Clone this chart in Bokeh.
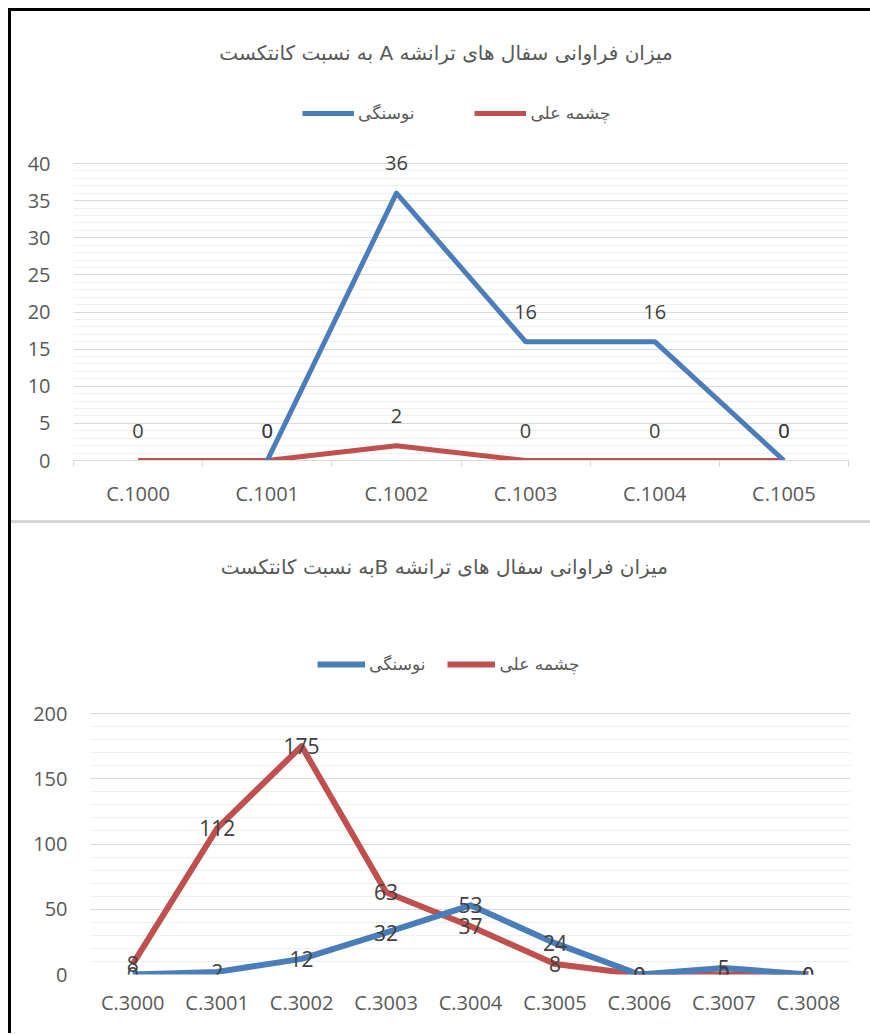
from bokeh.plotting import figure
from bokeh.models import (Range1d, FixedTicker, SingleIntervalTicker, Legend, LegendItem,
                          Label, ColumnDataSource)
from bokeh.layouts import column
from bokeh.core.properties import value
from bokeh.embed import file_html
from bokeh.resources import INLINE

# ---------------- data ----------------
title_a = "\u202bمیزان فراوانی سفال های ترانشه A به نسبت کانتکست\u202c"
title_b = "\u202bمیزان فراوانی سفال های ترانشه  Bبه نسبت کانتکست\u202c"
series_names = ["نوسنگی", "چشمه علی"]

cats_a = ["C.1000", "C.1001", "C.1002", "C.1003", "C.1004", "C.1005"]
neolithic_a = [float("nan"), 0, 36, 16, 16, 0]
cheshmeh_a = [0, 0, 2, 0, 0, 0]
yticks_a = [0, 40, 5]

cats_b = ["C.3000", "C.3001", "C.3002", "C.3003", "C.3004", "C.3005", "C.3006", "C.3007", "C.3008"]
neolithic_b = [0, 2, 12, 32, 53, 24, 0, 5, 0]
cheshmeh_b = [8, 112, 175, 63, 37, 8, 0, 0, 0]
yticks_b = [0, 200, 50]

BLUE = "#4a7ebb"
RED = "#c0504d"
TXT = "#595959"
FONT = "Open Sans"
AR_FONT = "DejaVu Sans"


def make_chart(cats, blue, red, yt, height, frame_l, frame_r, grid_top, min_bottom,
               title, title_up, title_dx, leg_loc, leg_spacing, leg_glyph_w,
               label_offset, axis_line, lw, x_standoff):
    n = len(cats)
    xs = [i + 0.5 for i in range(n)]
    top_pad = 2
    frame_bottom = height - min_bottom
    # the frame reaches up to the top of the figure so that title/legend are drawn inside it;
    # grid and axis are bounded to the real value range
    y_end = yt[1] * (frame_bottom - top_pad) / (frame_bottom - grid_top)
    p = figure(width=859, height=height, x_range=Range1d(0, n), y_range=Range1d(yt[0], y_end),
               output_backend="svg", toolbar_location=None, title=None,
               min_border_left=frame_l, min_border_right=frame_r,
               min_border_top=top_pad, min_border_bottom=min_bottom)
    p.outline_line_color = None
    p.background_fill_color = "white"
    p.border_fill_color = "white"
    p.xgrid.grid_line_color = None
    p.ygrid.grid_line_color = "#d9d9d9"
    p.ygrid.grid_line_width = 1
    p.ygrid.minor_grid_line_color = "#efefef"
    p.ygrid.minor_grid_line_width = 1
    p.ygrid.bounds = (yt[0], yt[1])

    # y axis
    p.yaxis.ticker = SingleIntervalTicker(interval=yt[2], num_minor_ticks=5)
    p.yaxis.bounds = (yt[0], yt[1])
    p.yaxis.axis_line_color = None
    p.yaxis.major_tick_line_color = None
    p.yaxis.minor_tick_line_color = None
    p.yaxis.major_label_text_font = FONT
    p.yaxis.major_label_text_font_size = "20px"
    p.yaxis.major_label_text_color = TXT
    p.yaxis.major_label_standoff = 17

    # x axis
    p.xaxis.ticker = FixedTicker(ticks=xs, minor_ticks=list(range(n + 1)))
    p.xaxis.major_label_overrides = {x: c for x, c in zip(xs, cats)}
    p.xaxis.major_tick_line_color = None
    if axis_line:
        p.xaxis.axis_line_color = "#d9d9d9"
        p.xaxis.minor_tick_line_color = "#d9d9d9"
        p.xaxis.minor_tick_out = 6
        p.xaxis.minor_tick_in = 0
    else:
        p.xaxis.axis_line_color = None
        p.xaxis.minor_tick_line_color = None
    p.xaxis.major_label_text_font = FONT
    p.xaxis.major_label_text_font_size = "20px"
    p.xaxis.major_label_text_color = TXT
    p.xaxis.major_label_standoff = x_standoff

    src = ColumnDataSource(dict(x=xs, blue=blue, red=red,
                                blue_t=[("" if b != b else str(int(b))) for b in blue],
                                red_t=[str(int(r)) for r in red]))
    r_red = p.line("x", "red", source=src, line_color=RED, line_width=lw, line_join="round")
    r_blue = p.line("x", "blue", source=src, line_color=BLUE, line_width=lw, line_join="round")
    fs = "20px" if label_offset else "21px"
    for col, tcol in (("red", "red_t"), ("blue", "blue_t")):
        p.text("x", col, text=tcol, source=src, text_align="center", text_baseline="middle",
               y_offset=label_offset, text_font=value(FONT), text_font_size=fs,
               text_color="#404040")

    leg = Legend(items=[LegendItem(label=series_names[0], renderers=[r_blue]),
                        LegendItem(label=series_names[1], renderers=[r_red])],
                 orientation="horizontal", location=leg_loc,
                 margin=0, padding=0, spacing=leg_spacing,
                 glyph_width=leg_glyph_w, glyph_height=20, label_height=20,
                 label_standoff=4, border_line_color=None, background_fill_alpha=0,
                 label_text_font=AR_FONT, label_text_font_size="17px", label_text_color=TXT)
    p.add_layout(leg, "center")
    t = Label(x=n / 2, y=yt[1], x_offset=title_dx, y_offset=title_up, text=title,
              text_align="center", text_baseline="middle",
              text_font=AR_FONT, text_font_size="20px", text_color=TXT)
    p.add_layout(t)
    return p


# top chart: grid 152..449 (figure px), frame left 62
p1 = make_chart(cats_a, neolithic_a, cheshmeh_a, yticks_a, height=512,
                frame_l=62, frame_r=22, grid_top=152, min_bottom=63,
                title=title_a, title_up=111, title_dx=-15, leg_loc=(229, 337), leg_spacing=60,
                leg_glyph_w=52, label_offset=-30, axis_line=True, lw=5, x_standoff=13)
p1.styles = {"border-bottom": "3px solid #d6d6d6"}

# bottom chart: grid 190..451, frame left 79
p2 = make_chart(cats_b, neolithic_b, cheshmeh_b, yticks_b, height=510,
                frame_l=79, frame_r=20, grid_top=190, min_bottom=59,
                title=title_b, title_up=147, title_dx=-23, leg_loc=(227, 300), leg_spacing=22,
                leg_glyph_w=48, label_offset=0, axis_line=False, lw=6, x_standoff=8)

layout = column(column(p1), column(p2), spacing=0,
                styles={"border-left": "3px solid black", "border-top": "3px solid black",
                        "margin-left": "8px", "margin-top": "8px"})

open("out.html", "w").write(file_html(layout, INLINE))
